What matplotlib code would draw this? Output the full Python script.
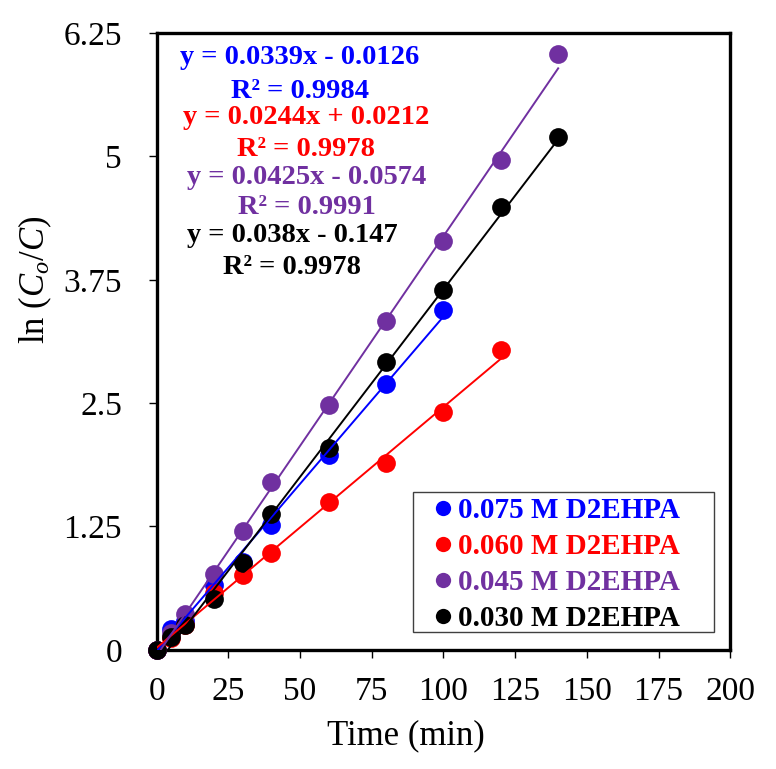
import numpy as np
import matplotlib
matplotlib.use("Agg")
import matplotlib.pyplot as plt
from matplotlib.lines import Line2D
from matplotlib.patches import Rectangle

plt.rcParams['font.family'] = 'Liberation Serif'
plt.rcParams['mathtext.fontset'] = 'custom'
plt.rcParams['mathtext.rm'] = 'Liberation Serif'
plt.rcParams['mathtext.it'] = 'Liberation Serif:italic'

# data
labels = ['0.075 M D2EHPA', '0.060 M D2EHPA', '0.045 M D2EHPA', '0.030 M D2EHPA']
colors = ['#0000FF', '#FF0000', '#7030A0', '#000000']

t_blue = [0, 5, 10, 20, 30, 40, 60, 80, 100]
y_blue = [0, 0.21, 0.29, 0.66, 0.89, 1.26, 1.97, 2.69, 3.44]

t_red = [0, 5, 10, 20, 30, 40, 60, 80, 100, 120]
y_red = [0, 0.12, 0.25, 0.58, 0.76, 0.98, 1.50, 1.89, 2.41, 3.04]

t_purple = [0, 5, 10, 20, 30, 40, 60, 80, 100, 120, 140]
y_purple = [0, 0.17, 0.36, 0.77, 1.20, 1.70, 2.48, 3.33, 4.14, 4.96, 6.04]

t_black = [0, 5, 10, 20, 30, 40, 60, 80, 100, 120, 140]
y_black = [0, 0.13, 0.25, 0.51, 0.88, 1.38, 2.05, 2.92, 3.65, 4.49, 5.20]

# trendline coefficients as printed on the chart
slopes = [0.0339, 0.0244, 0.0425, 0.038]
intercepts = [-0.0126, 0.0212, -0.0574, -0.147]
eq_text = ['y = 0.0339x - 0.0126', 'y = 0.0244x + 0.0212',
           'y = 0.0425x - 0.0574', 'y = 0.038x - 0.147']
r2_text = ['R² = 0.9984', 'R² = 0.9978', 'R² = 0.9991', 'R² = 0.9978']

series = [(t_blue, y_blue), (t_red, y_red), (t_purple, y_purple), (t_black, y_black)]

W, H = 776, 769
fig = plt.figure(figsize=(W / 100, H / 100), dpi=100)
ax = fig.add_axes([0.202, 0.155, 0.739, 0.802])

for i, (t, y) in enumerate(series):
    t = np.array(t, dtype=float)
    xl = np.array([t.min(), t.max()])
    ax.plot(xl, slopes[i] * xl + intercepts[i], color=colors[i], lw=1.4, zorder=5)
for i in [0, 2, 1, 3]:
    t, y = series[i]
    ax.plot(t, y, 'o', color=colors[i], ms=13.5, mec='none', zorder=3 + i * 0.1, clip_on=False)

ax.set_xlim(0, 200)
ax.set_ylim(0, 6.25)
ax.set_xticks(np.arange(0, 201, 25))
ax.set_yticks([0, 1.25, 2.5, 3.75, 5, 6.25])
ax.set_yticklabels(['0', '1.25', '2.5', '3.75', '5', '6.25'])
ax.tick_params(axis='both', direction='out', length=6, width=1, labelsize=24)
ax.tick_params(axis='x', pad=13)
ax.tick_params(axis='y', pad=19)
for s in ax.spines.values():
    s.set_linewidth(2.4)

ax.set_xlabel('Time (min)', fontsize=25, labelpad=4)
ax.xaxis.set_label_coords(0.435, -0.113)
ax.set_ylabel(r'ln ($C_o/C$)', fontsize=25)
ax.yaxis.set_label_coords(-0.18, 0.6)

# equations (pixel centres)
eq_pos = [(300, 58, 92), (306, 117, 150), (307, 178, 208), (292, 235, 267)]
for i, (px, py1, py2) in enumerate(eq_pos):
    fig.text(px / W, 1 - py1 / H, eq_text[i], color=colors[i], fontsize=20.5,
             fontweight='bold', ha='center', va='center')
    fig.text(px / W, 1 - py2 / H, r2_text[i], color=colors[i], fontsize=20.5,
             fontweight='bold', ha='center', va='center')

# legend frame drawn separately (the box is wider than its content)
ax.add_patch(Rectangle((0.446, 0.029), 0.526, 0.227, transform=ax.transAxes,
                       fill=True, facecolor='white', edgecolor='#404040', lw=1, zorder=6))
handles = [Line2D([], [], ls='none', marker='o', color=c, ms=11, mec='none') for c in colors]
leg = ax.legend(handles, labels, loc='upper left', bbox_to_anchor=(0.487, 0.247),
                prop={'weight': 'bold', 'size': 21}, frameon=False,
                handlelength=0.5, handletextpad=0.25, borderpad=0, labelspacing=0.3,
                borderaxespad=0)
leg.set_zorder(7)
for txt, c in zip(leg.get_texts(), colors):
    txt.set_color(c)

fig.savefig('out.png', dpi=100)
